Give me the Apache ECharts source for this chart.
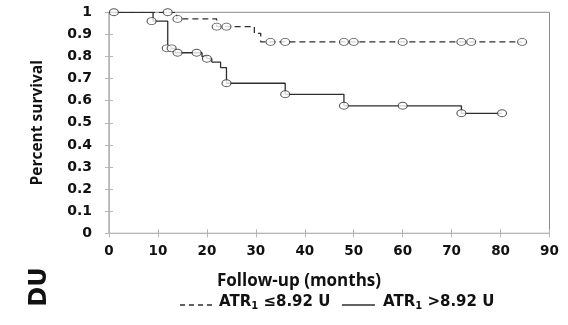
<!DOCTYPE html>
<html><head><meta charset="utf-8">
<script src="https://cdn.jsdelivr.net/npm/echarts@6/dist/echarts.min.js"></script>
<style>html,body{margin:0;padding:0;background:#fff}#c{width:568px;height:325px}</style>
</head><body><div id="c"></div>
<script>
// Kaplan-Meier step points [month, survival]
const lowSteps = [[0,1],[13.8,0.97],[22,0.935],[29.7,0.905],[31,0.866],[84.4,0.866]];
const lowCensor = [[1,1],[12,1],[14,0.97],[22,0.935],[24,0.935],[33,0.866],[36,0.866],[48,0.866],[50,0.866],[60,0.866],[72,0.866],[74,0.866],[84.4,0.866]];
const highSteps = [[0,1],[9,0.96],[12,0.837],[13.5,0.817],[19,0.80],[20,0.79],[21,0.775],[22.8,0.75],[24,0.679],[36,0.629],[48,0.577],[72,0.543],[80.3,0.543]];
const highCensor = [[8.7,0.96],[11.8,0.837],[12.8,0.837],[14,0.817],[17.9,0.817],[20,0.79],[24,0.679],[36,0.629],[48,0.577],[60,0.577],[72,0.543],[80.3,0.543]];
const xTicks = {min:0, max:90, interval:10};
const yTicks = {min:0, max:1, interval:0.1};

const chart = echarts.init(document.getElementById('c'), null, {renderer:'canvas'});
const lineCol = '#2e2e2e';
const axCol = '#b5b5b5';
const lblFont = 'DejaVu Sans';
const mk = {type:'scatter', symbol:'circle', symbolSize:[9,7], itemStyle:{color:'#fff', borderColor:lineCol, borderWidth:1}, z:5, silent:true};
const innerTick = {show:true, inside:true, length:4, lineStyle:{color:axCol}};
chart.setOption({
  animation:false,
  grid:{left:109, right:18.5, top:12.3, bottom:91.7, show:true, borderColor:'#8a8a8a', borderWidth:1, backgroundColor:'transparent'},
  xAxis:[{type:'value', min:xTicks.min, max:xTicks.max, interval:xTicks.interval,
    axisLine:{lineStyle:{color:axCol}}, axisTick:{show:true, length:4, lineStyle:{color:axCol}},
    splitLine:{show:false},
    axisLabel:{color:'#111', fontFamily:lblFont, fontWeight:'bold', fontSize:13.5, margin:11}},
    {type:'value', position:'bottom', min:xTicks.min, max:xTicks.max, interval:xTicks.interval,
    axisLine:{show:false}, axisTick:innerTick, axisLabel:{show:false}, splitLine:{show:false}}],
  yAxis:[{type:'value', min:yTicks.min, max:yTicks.max, interval:yTicks.interval,
    axisLine:{show:true, lineStyle:{color:axCol}}, axisTick:{show:true, length:4, lineStyle:{color:axCol}},
    splitLine:{show:false},
    axisLabel:{color:'#111', fontFamily:lblFont, fontWeight:'bold', fontSize:14, margin:17,
      formatter:v=>String(Math.round(v*10)/10)},
    name:'Percent survival', nameLocation:'middle', nameGap:63,
    nameTextStyle:{color:'#111', fontFamily:'Open Sans', fontWeight:'bold', fontSize:15.5}},
    {type:'value', position:'left', min:yTicks.min, max:yTicks.max, interval:yTicks.interval,
    axisLine:{show:false}, axisTick:innerTick, axisLabel:{show:false}, splitLine:{show:false}}],
  series:[
    {type:'line', step:'end', data:lowSteps, showSymbol:false, lineStyle:{color:lineCol, width:1.3, type:[6,4]}, silent:true},
    {type:'line', step:'end', data:highSteps, showSymbol:false, lineStyle:{color:lineCol, width:1.3}, silent:true},
    Object.assign({data:lowCensor}, mk),
    Object.assign({data:highCensor}, mk)
  ],
  graphic:[
    {type:'text', left:217, top:273, style:{text:'Follow-up (months)', fill:'#111', font:'bold 17px "Open Sans"'}},
    {type:'line', shape:{x1:180, y1:305, x2:215, y2:305}, style:{stroke:lineCol, lineWidth:1.3, lineDash:[5,4]}},
    {type:'text', left:219, top:295, style:{rich:{a:{fill:'#111', font:'bold 15px "DejaVu Sans"'}, s:{fill:'#111', font:'bold 10px "DejaVu Sans"', verticalAlign:'bottom', padding:[7,0,0,0]}}, text:'{a|ATR}{s|1}{a| ≤8.92 U}'}},
    {type:'line', shape:{x1:342, y1:305, x2:375, y2:305}, style:{stroke:lineCol, lineWidth:1.3}},
    {type:'text', left:383, top:295, style:{rich:{a:{fill:'#111', font:'bold 15px "DejaVu Sans"'}, s:{fill:'#111', font:'bold 10px "DejaVu Sans"', verticalAlign:'bottom', padding:[7,0,0,0]}}, text:'{a|ATR}{s|1}{a| >8.92 U}'}},
    {type:'text', x:40, y:287, rotation:Math.PI/2, style:{text:'DU', fill:'#111', font:'bold 24px "DejaVu Sans"', align:'center', verticalAlign:'middle'}}
  ]
});
</script></body></html>
